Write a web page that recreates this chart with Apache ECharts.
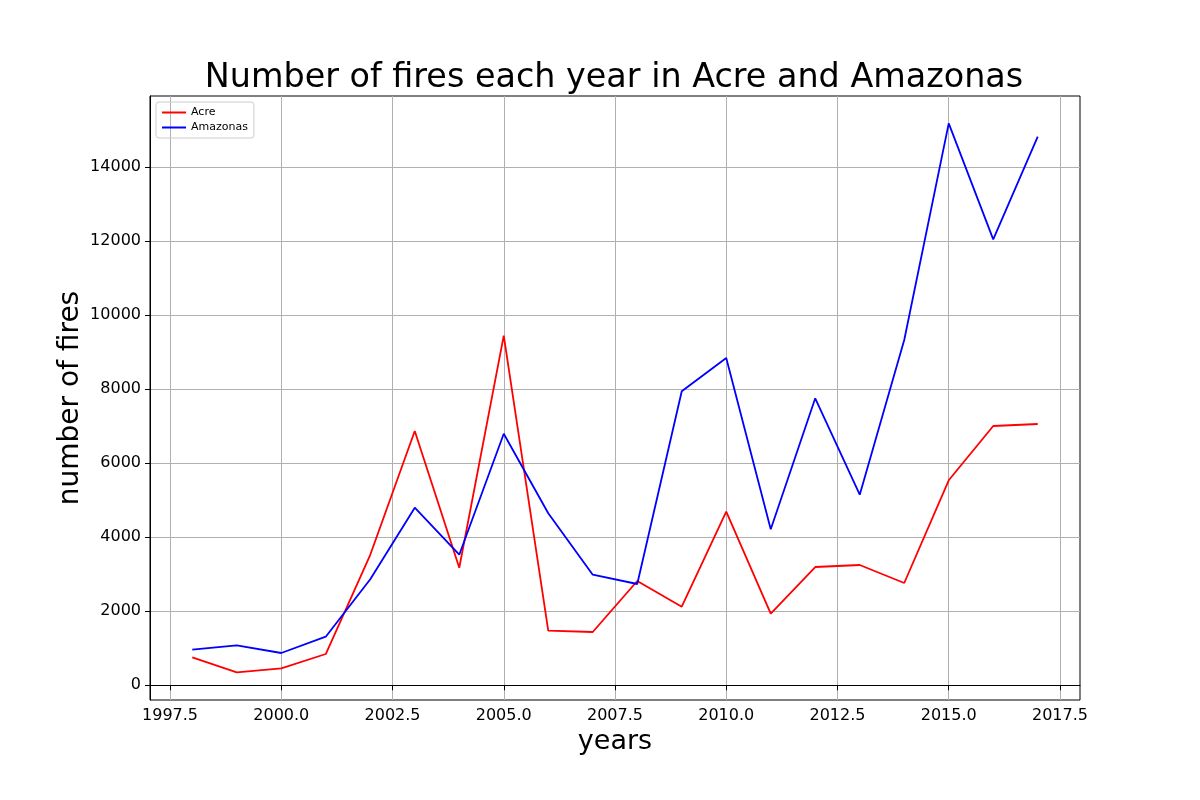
<!DOCTYPE html>
<html>
<head>
<meta charset="utf-8">
<script src="https://cdn.jsdelivr.net/npm/echarts@6/dist/echarts.min.js"></script>
<style>html,body{margin:0;padding:0;background:#fff;}#chart{width:1200px;height:800px;}</style>
</head>
<body>
<div id="chart"></div>
<script>
const years = [1998,1999,2000,2001,2002,2003,2004,2005,2006,2007,2008,2009,2010,2011,2012,2013,2014,2015,2016,2017];
const acre = [757,351,459,846,3527,6873,3178,9449,1476,1441,2819,2124,4692,1935,3197,3251,2765,5541,7008,7062];
const amazonas = [963,1081,873,1314,2865,4800,3530,6800,4649,2989,2738,7946,8846,4216,7757,5151,9332,15189,12054,14827];
const xTicks = [1997.5,2000.0,2002.5,2005.0,2007.5,2010.0,2012.5,2015.0,2017.5];
const yTicks = [0,2000,4000,6000,8000,10000,12000,14000];

const font = 'DejaVu Sans';
const chart = echarts.init(document.getElementById('chart'), null, {renderer:'canvas'});
chart.setOption({
  animation:false,
  backgroundColor:'#fff',
  title:{text:'Number of fires each year in Acre and Amazonas', left:609, textAlign:'center', top:57,
    textStyle:{fontFamily:font, fontSize:33.4, fontWeight:'normal', color:'#000'}},
  legend:{left:156, top:102, orient:'vertical', itemGap:4, itemWidth:24, itemHeight:2, icon:'rect',
    padding:[5,6,5,6], borderColor:'#ccc', borderWidth:1, borderRadius:3,
    textStyle:{fontFamily:font, fontSize:11, color:'#000'},
    data:[{name:'Acre'},{name:'Amazonas'}]},
  grid:{left:150, right:120, top:96, bottom:100, show:true, borderColor:'#000', borderWidth:1, containLabel:false},
  xAxis:{type:'value', min:1997.05, max:2017.95,
    name:'years', nameLocation:'middle', nameGap:28,
    nameTextStyle:{fontFamily:font, fontSize:27, color:'#000'},
    axisLine:{show:true, lineStyle:{color:'#000'}},
    axisTick:{show:true, length:5, lineStyle:{color:'#000'}, customValues:xTicks},
    axisLabel:{customValues:xTicks, formatter:v=>v.toFixed(1), fontFamily:font, fontSize:16, color:'#000', margin:8},
    splitLine:{show:true, lineStyle:{color:'#b0b0b0', width:1}}},
  yAxis:{type:'value', min:-397, max:15927,
    name:'number of fires', nameLocation:'middle', nameGap:65, nameRotate:90, nameMoveOverlap:false,
    nameTextStyle:{fontFamily:font, fontSize:28, color:'#000'},
    axisLine:{show:true, lineStyle:{color:'#000'}},
    axisTick:{show:true, length:5, lineStyle:{color:'#000'}, customValues:yTicks},
    axisLabel:{customValues:yTicks, formatter:v=>String(v), fontFamily:font, fontSize:16, color:'#000', margin:9},
    splitLine:{show:true, lineStyle:{color:'#b0b0b0', width:1}}},
  series:[
    {name:'Acre', type:'line', data:years.map((y,i)=>[y,acre[i]]), showSymbol:false, symbol:'none',
      lineStyle:{color:'#ff0000', width:1.8}, itemStyle:{color:'#ff0000'}},
    {name:'Amazonas', type:'line', data:years.map((y,i)=>[y,amazonas[i]]), showSymbol:false, symbol:'none',
      lineStyle:{color:'#0000ff', width:1.8}, itemStyle:{color:'#0000ff'}}
  ]
});
</script>
</body>
</html>
